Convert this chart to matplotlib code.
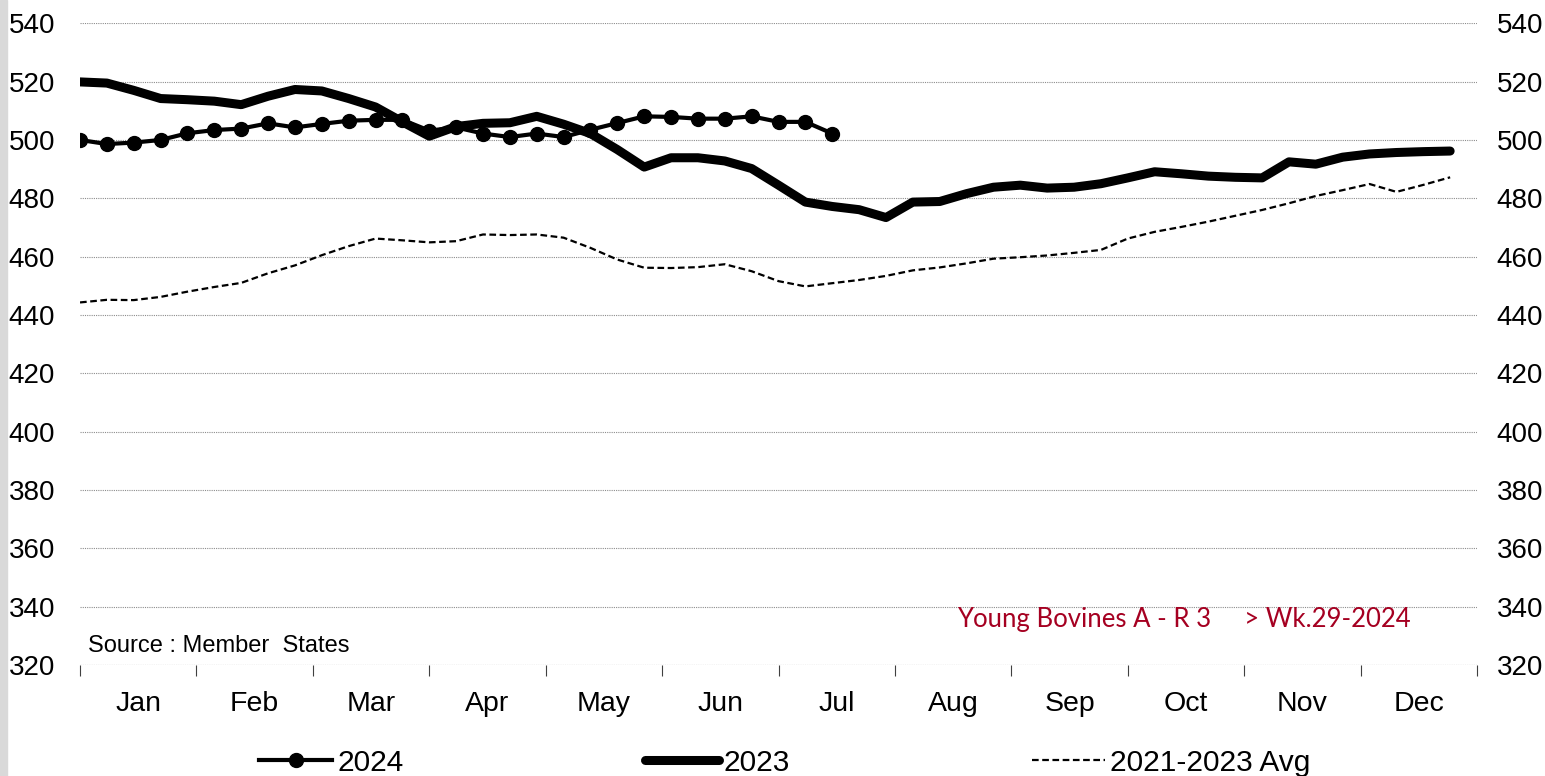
import matplotlib
matplotlib.use("Agg")
import matplotlib.pyplot as plt
import numpy as np
from matplotlib.patches import Rectangle

plt.rcParams["font.family"] = ["Liberation Sans", "DejaVu Sans"]

months = ["Jan", "Feb", "Mar", "Apr", "May", "Jun",
          "Jul", "Aug", "Sep", "Oct", "Nov", "Dec"]

# weekly prices, 2024 up to week 29
y2024 = [500.0, 498.6, 499.1, 500.0, 502.3, 503.4, 503.9, 505.7, 504.3, 505.5,
         506.6, 506.9, 506.9, 503.2, 504.3, 502.2, 501.0, 502.2, 501.0, 503.5,
         505.8, 508.1, 507.9, 507.3, 507.3, 508.1, 506.2, 506.2, 502.2]

y2023 = [519.9, 519.5, 517.0, 514.2, 513.8, 513.3, 512.1, 515.0, 517.3, 516.8,
         514.2, 511.3, 506.2, 501.3, 504.6, 505.7, 505.9, 508.1, 505.4, 502.2,
         496.7, 490.7, 493.9, 493.9, 492.8, 490.2, 484.5, 478.7, 477.2, 476.1,
         473.4, 478.7, 478.9, 481.6, 483.8, 484.5, 483.5, 483.8, 485.0, 487.0,
         489.1, 488.4, 487.6, 487.2, 487.0, 492.5, 491.7, 494.1, 495.2, 495.7,
         496.0, 496.2]

avg_21_23 = [444.3, 445.2, 445.1, 446.2, 448.0, 449.6, 451.0, 454.3, 457.0, 460.5,
             463.6, 466.2, 465.6, 464.9, 465.3, 467.6, 467.4, 467.6, 466.5, 463.0,
             459.0, 456.2, 456.1, 456.4, 457.4, 455.0, 451.6, 449.8, 450.9, 452.0,
             453.4, 455.3, 456.3, 457.7, 459.3, 459.8, 460.4, 461.3, 462.3, 466.2,
             468.5, 470.2, 472.0, 474.0, 476.0, 478.3, 480.8, 482.8, 484.9, 482.2,
             484.6, 487.2]

weeks_2024 = np.arange(1, len(y2024) + 1)
weeks_all = np.arange(1, len(y2023) + 1)

fig = plt.figure(figsize=(15.45, 7.76), dpi=100)
fig.patches.append(Rectangle((0, 0), 0.0045, 1, transform=fig.transFigure,
                             color="#d9d9d9", zorder=0))
ax = fig.add_axes([0.0518, 0.143, 0.9042, 0.827])

ax.set_xlim(1, 53)
ax.set_ylim(320, 540)

yt = np.arange(320, 541, 20)
for v in yt:
    ax.axhline(v, color="#8c8c8c" if v > 320 else "#404040",
               lw=0.8, ls=(0, (1, 1)), zorder=1)

ax.plot(weeks_all, avg_21_23, color="black", lw=1.6, ls=(0, (3, 1.6)),
        label="2021-2023 Avg", zorder=3)
ax.plot(weeks_all, y2023, color="black", lw=6.5, solid_capstyle="round",
        label="2023", zorder=4)
ax.plot(weeks_2024, y2024, color="black", lw=3, marker="o", markersize=10,
        label="2024", zorder=5)

for s in ax.spines.values():
    s.set_visible(False)

ax.set_yticks(yt)
ax.tick_params(axis="y", length=0, labelsize=20, pad=18)

bounds = 1 + np.arange(13) * 52 / 12
centers = bounds[:-1] + 52 / 24
ax.set_xticks(centers)
ax.set_xticklabels(months)
ax.set_xticks(bounds, minor=True)
ax.tick_params(axis="x", which="major", length=0, labelsize=20.5, pad=19)
ax.tick_params(axis="x", which="minor", length=8, width=0.8, color="#404040")

ax2 = ax.twinx()
ax2.set_ylim(320, 540)
ax2.set_yticks(yt)
ax2.tick_params(axis="y", length=0, labelsize=20, pad=14)
for s in ax2.spines.values():
    s.set_visible(False)

ax.text(0.006, 0.030, "Source : Member  States", transform=ax.transAxes,
        fontsize=17, va="center", ha="left")
ax.text(0.628, 0.071, "Young Bovines A - R 3     > Wk.29-2024",
        transform=ax.transAxes, fontsize=18.5, va="center", ha="left",
        color="#a50021", family=["Lato", "DejaVu Sans"])

handles, labels = ax.get_legend_handles_labels()
order = [2, 1, 0]
fig.legend([handles[i] for i in order], [labels[i] for i in order],
           loc="center", bbox_to_anchor=(0.508, 0.017), ncol=3, frameon=False,
           fontsize=21.5, handlelength=2.45, handletextpad=0.17,
           columnspacing=8.1)

fig.savefig("out.png", dpi=100)
